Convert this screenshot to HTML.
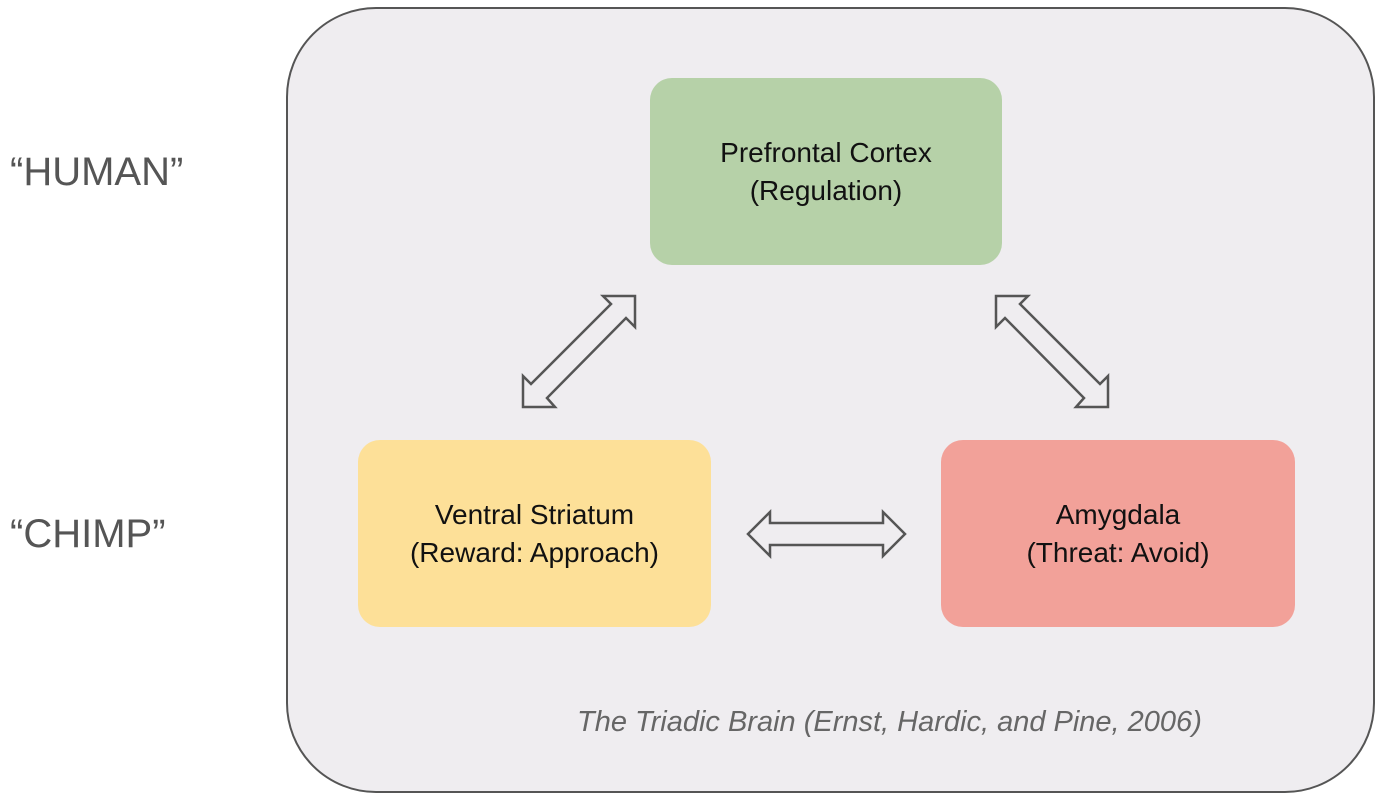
<!DOCTYPE html>
<html><head><style>
body{margin:0;width:1382px;height:801px;background:#fff;position:relative;font-family:"Liberation Sans",sans-serif;overflow:hidden}
.frame{position:absolute;left:286px;top:7px;width:1089px;height:786px;border:2px solid #555;border-radius:90px;background:#efedf0;box-sizing:border-box}
.box{position:absolute;border-radius:22px;display:flex;align-items:center;justify-content:center;text-align:center;font-size:28px;line-height:38px;color:#111}
.lbl{position:absolute;font-size:40px;color:#555}
</style></head><body>
<div class="frame"></div>
<div class="lbl" style="left:10px;top:150px">“HUMAN”</div>
<div class="lbl" style="left:10px;top:512px">“CHIMP”</div>
<div class="box" style="left:650px;top:78px;width:352px;height:187px;background:#b6d1a8">Prefrontal Cortex<br>(Regulation)</div>
<div class="box" style="left:358px;top:440px;width:353px;height:187px;background:#fde098">Ventral Striatum<br>(Reward: Approach)</div>
<div class="box" style="left:941px;top:440px;width:354px;height:187px;background:#f2a199">Amygdala<br>(Threat: Avoid)</div>
<svg width="1382" height="801" style="position:absolute;left:0;top:0">
<g fill="#efedf0" stroke="#555" stroke-width="2.5" stroke-linejoin="miter">
<polygon points="603,296 635,296 635,327 626,318 547,398 555,407 523,407 523,376 531,384 611,304"/>
<polygon transform="translate(1631,0) scale(-1,1)" points="603,296 635,296 635,327 626,318 547,398 555,407 523,407 523,376 531,384 611,304"/>
<polygon points="748,534 770,512 770,523 883,523 883,512 905,534 883,556 883,545 770,545 770,556"/>
</g>
</svg>
<div style="position:absolute;left:577px;top:706px;font-size:29px;font-style:italic;color:#666">The Triadic Brain (Ernst, Hardic, and Pine, 2006)</div>
</body></html>
